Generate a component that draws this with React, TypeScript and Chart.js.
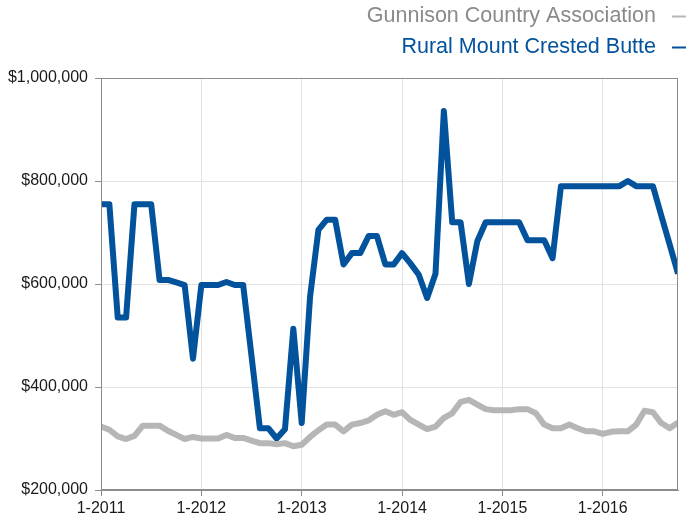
import React, { useEffect, useRef } from "react";
import { Chart, registerables } from "chart.js";

Chart.register(...registerables);

const startYear = 2011;
const seriesNames = ["Gunnison Country Association", "Rural Mount Crested Butte"];

// Monthly values, Jan 2011 .. Oct 2016 (thousands of dollars)
const gunnison = [
  323, 317, 304, 299, 305, 325, 325, 325, 315, 307, 299, 303,
  300, 300, 300, 307, 301, 301, 296, 291, 291, 289, 291, 285,
  288, 303, 316, 327, 327, 314, 327, 330, 335, 346, 353, 346,
  351, 336, 327, 318, 323, 340, 349, 371, 375, 366, 357, 355,
  355, 355, 357, 357, 349, 327, 320, 320, 327, 320, 314, 314,
  309, 313, 314, 314, 327, 354, 351, 330, 320, 331,
];
const rural = [
  755, 755, 535, 535, 755, 755, 755, 608, 608, 603, 598, 455,
  598, 598, 598, 604, 598, 598, 460, 320, 320, 300, 318, 513,
  330, 575, 705, 725, 725, 638, 660, 660, 693, 693, 638, 638,
  660, 640, 618, 573, 620, 936, 720, 720, 600, 683, 720, 720,
  720, 720, 720, 685, 685, 685, 650, 790, 790, 790, 790, 790,
  790, 790, 790, 800, 790, 790, 790, 733, 677, 620,
];
const yTicks = [200000, 400000, 600000, 800000, 1000000];

const grayLine = "#b5b6b5";
const grayText = "#8a8a8a";
const blue = "#02529c";
const fontFamily = "'Liberation Sans', Arial, Helvetica, sans-serif";

export default function App() {
  const ref = useRef<HTMLCanvasElement | null>(null);
  useEffect(() => {
    document.body.style.margin = "0";
    const canvas = ref.current!;
    const toPts = (arr: number[]) => arr.map((v, i) => ({ x: i, y: v * 1000 }));

    const framePlugin = {
      id: "frame",
      afterDatasetsDraw(chart: any) {
        const { ctx, chartArea } = chart;
        ctx.save();
        ctx.strokeStyle = "#8c8c8c";
        ctx.lineWidth = 1;
        ctx.strokeRect(
          Math.round(chartArea.left) + 0.5,
          Math.round(chartArea.top) + 0.5,
          Math.round(chartArea.right - chartArea.left) - 1,
          Math.round(chartArea.bottom - chartArea.top) - 1
        );
        ctx.restore();
      },
      afterDraw(chart: any) {
        const { ctx } = chart;
        ctx.save();
        ctx.font = `21.5px ${fontFamily}`;
        ctx.textAlign = "right";
        ctx.textBaseline = "middle";
        const items = [
          { label: seriesNames[0], text: grayText, line: grayLine, y: 16 },
          { label: seriesNames[1], text: blue, line: blue, y: 47 },
        ];
        for (const it of items) {
          ctx.fillStyle = it.text;
          ctx.fillText(it.label, 656, it.y);
          ctx.strokeStyle = it.line;
          ctx.lineWidth = 2;
          ctx.beginPath();
          ctx.moveTo(672, it.y + 0.5);
          ctx.lineTo(686, it.y + 0.5);
          ctx.stroke();
        }
        ctx.restore();
      },
    };

    const chart = new Chart(canvas, {
      type: "line",
      data: {
        datasets: [
          {
            label: seriesNames[0],
            data: toPts(gunnison),
            borderColor: grayLine,
            backgroundColor: grayLine,
            borderWidth: 6,
            pointRadius: 0,
            tension: 0,
            borderJoinStyle: "round",
          },
          {
            label: seriesNames[1],
            data: toPts(rural),
            borderColor: blue,
            backgroundColor: blue,
            borderWidth: 6,
            pointRadius: 0,
            tension: 0,
            borderJoinStyle: "round",
          },
        ],
      },
      options: {
        responsive: false,
        animation: false,
        layout: { padding: { top: 78, right: 10, left: 0, bottom: 0 } },
        plugins: {
          legend: { display: false },
          tooltip: { enabled: false },
          title: { display: false },
        },
        scales: {
          x: {
            type: "linear",
            min: 0,
            max: gunnison.length - 1,
            afterFit: (s: any) => {
              s.height = 29;
            },
            ticks: {
              stepSize: 12,
              includeBounds: false,
              autoSkip: false,
              maxRotation: 0,
              color: "#1a1a1a",
              font: { family: fontFamily, size: 16 },
              padding: 3,
              callback: (v: any) => `1-${startYear + Math.round(Number(v) / 12)}`,
            },
            grid: {
              color: "#e2e2e2",
              tickColor: "#8c8c8c",
              tickLength: 6,
            },
            border: { color: "#8c8c8c" },
          },
          y: {
            min: yTicks[0],
            max: yTicks[yTicks.length - 1],
            afterFit: (s: any) => {
              s.width = 101;
            },
            afterBuildTicks: (s: any) => {
              s.ticks = yTicks.map((v) => ({ value: v }));
            },
            ticks: {
              color: "#1a1a1a",
              font: { family: fontFamily, size: 16 },
              padding: 7,
              callback: (v: any) => "$" + Number(v).toLocaleString("en-US"),
            },
            grid: {
              color: "#e2e2e2",
              tickColor: "#8c8c8c",
              tickLength: 6,
            },
            border: { color: "#8c8c8c" },
          },
        },
      } as any,
      plugins: [framePlugin],
    });
    return () => chart.destroy();
  }, []);
  return (
    <div style={{ width: 688, height: 519 }}>
      <canvas ref={ref} width={688} height={519} style={{ display: "block" }} />
    </div>
  );
}
